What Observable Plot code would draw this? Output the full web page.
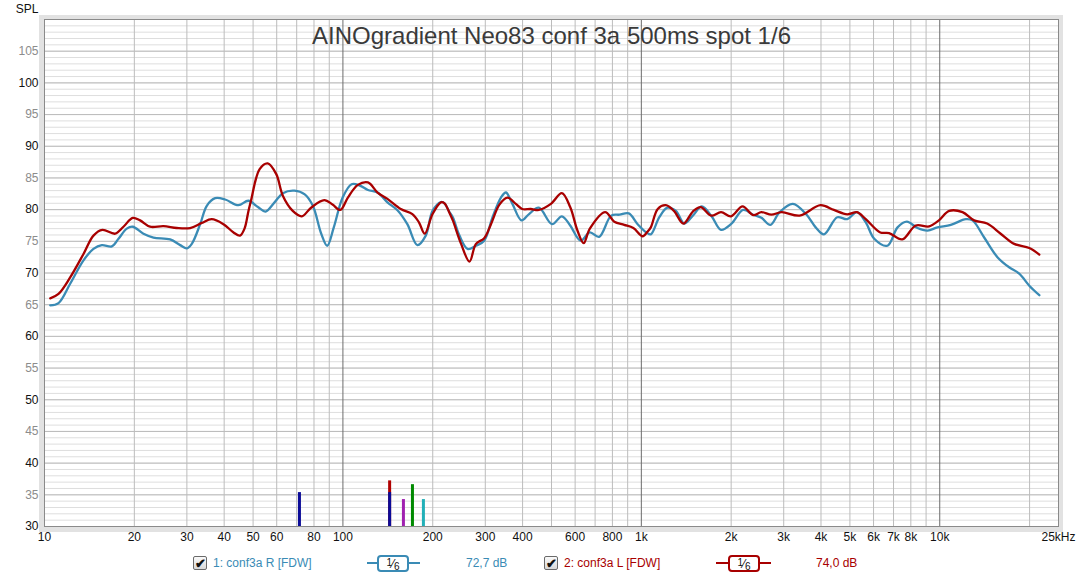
<!DOCTYPE html>
<html>
<head>
<meta charset="utf-8">
<script src="https://cdn.jsdelivr.net/npm/d3@7"></script>
<script src="https://cdn.jsdelivr.net/npm/@observablehq/plot@0.6"></script>
<style>
  html, body { margin: 0; padding: 0; background: #fff; }
  body { font-family: "Liberation Sans", Arial, sans-serif; width: 1080px; height: 578px; overflow: hidden; }
  #legend { position: relative; width: 1080px; height: 30px; font-size: 12px; }
  #legend .it { position: absolute; top: 8px; line-height: 14px; white-space: nowrap; }
  .cb { width: 12px; height: 12px; border: 1px solid #6a6a6a; border-radius: 2px;
        background: linear-gradient(#fafafa, #d8d8d8); font-size: 13px; line-height: 12px;
        text-align: center; color: #111; font-weight: bold; }
  .ln { height: 2px; }
  .badge { height: 13px; border-radius: 4px; background: #fff; text-align: center;
           color: #111; font-size: 11px; line-height: 13px; }
</style>
</head>
<body>
<div id="chart"></div>
<div id="legend"></div>
<script>
// ---- data ----
const chartTitle = "AINOgradient Neo83 conf 3a 500ms spot 1/6";
const yAxisTitle = "SPL";

const blueName = "1: conf3a R [FDW]";
const blueLevel = "72,7 dB";
const redName = "2: conf3a L [FDW]";
const redLevel = "74,0 dB";
const smoothing = "1/6";

const blueFreq = [10.45, 11.14, 12.19, 13.51, 14.59, 15.56, 16.81, 17.70, 18.87, 19.76, 21.46, 23.18, 26.37, 28.49, 30.0, 31.16, 33.24, 34.98, 37.31, 40.3, 44.66, 48.2, 51.9, 55.0, 59.0, 62.9, 68.8, 74.5, 79.3, 84.6, 88.6, 93.2, 99.8, 106.9, 113.9, 121.3, 130.6, 141.0, 152.3, 164.4, 177.6, 189.5, 199.7, 213, 219, 227, 233.5, 245.8, 261.7, 279.1, 297.5, 317.3, 338.5, 351.8, 369.8, 396.6, 420.5, 453.6, 502, 541.6, 577.5, 625.8, 672.1, 721.9, 792.6, 845.4, 907.8, 971.9, 1040, 1076, 1149, 1223, 1306, 1394, 1488, 1595, 1715, 1850, 1997, 2195, 2369, 2526, 2706, 2906, 3218, 3563, 3839, 4094, 4532, 4898, 5279, 5651, 6033, 6678, 7220, 7758, 8420, 9097, 9826, 10891, 12232, 12876, 14090, 15606, 17083, 18463, 19955, 21566];
const blueSPL = [64.9, 65.25, 68.3, 72.0, 73.8, 74.4, 74.2, 75.4, 77.0, 77.3, 76.2, 75.6, 75.3, 74.4, 73.9, 74.6, 77.7, 80.6, 81.8, 81.6, 80.7, 81.4, 80.4, 79.7, 81.15, 82.6, 83.0, 82.4, 80.6, 76.2, 74.3, 77.2, 81.9, 84.0, 83.8, 83.1, 82.7, 81.15, 79.9, 77.7, 74.4, 75.9, 79.8, 81.2, 81.0, 79.7, 78.8, 75.9, 73.8, 74.3, 75.1, 78.8, 81.9, 82.7, 80.9, 78.3, 79.3, 80.3, 77.7, 78.95, 77.5, 75.1, 76.4, 75.7, 79.05, 79.2, 79.4, 77.7, 76.4, 76.1, 78.8, 80.3, 79.8, 77.8, 79.05, 80.5, 79.05, 76.8, 77.7, 79.95, 79.2, 78.7, 77.6, 79.6, 80.9, 79.3, 77.2, 76.1, 78.8, 78.5, 79.6, 78.0, 75.4, 74.3, 77.2, 78.1, 77.1, 76.7, 77.2, 77.6, 78.5, 78.3, 75.6, 72.5, 70.9, 69.9, 68.0, 66.5];

const redFreq = [10.45, 11.14, 12.19, 13.51, 14.59, 15.63, 17.25, 18.39, 19.76, 20.91, 22.58, 25.04, 27.76, 30.76, 33.66, 36.33, 39.8, 43.0, 45.2, 46.8, 48.25, 49.2, 52.6, 56.0, 59.8, 62.9, 67.9, 72.8, 78.2, 86.6, 92.3, 98.0, 103.9, 112.2, 121.3, 130.6, 141.0, 156.3, 170.9, 179.8, 188.0, 199.7, 213, 219, 227, 233.5, 248.9, 265.6, 279.1, 297.5, 313.4, 334.5, 355.9, 379.6, 398.8, 426, 453.6, 497.6, 541.6, 577.5, 610.8, 640.8, 672.1, 756.2, 811.5, 876.3, 940.2, 1010, 1048, 1076, 1135, 1208, 1286, 1383, 1488, 1580, 1715, 1850, 1997, 2184, 2369, 2526, 2728, 2954, 3393, 3985, 4418, 4898, 5279, 5651, 6322, 6763, 7488, 8311, 9214, 9935, 10759, 11921, 13040, 14414, 16001, 17759, 19955, 21566];
const redSPL = [66.0, 66.7, 69.3, 73.0, 75.9, 76.8, 76.2, 77.3, 78.7, 78.3, 77.3, 77.4, 77.1, 77.1, 77.9, 78.5, 77.7, 76.4, 75.9, 77.0, 79.8, 81.4, 86.4, 87.3, 85.6, 82.2, 79.8, 78.95, 80.3, 81.5, 80.8, 79.95, 81.9, 83.9, 84.3, 82.7, 81.7, 80.1, 79.3, 78.0, 76.2, 79.3, 81.15, 81.0, 79.6, 78.3, 74.6, 71.8, 74.6, 75.5, 77.7, 80.8, 81.9, 80.9, 80.1, 80.1, 79.95, 80.9, 82.6, 80.4, 76.7, 74.7, 77.0, 79.6, 78.1, 77.6, 77.1, 75.8, 76.5, 77.2, 80.1, 80.7, 79.8, 77.8, 79.7, 80.4, 79.05, 79.6, 78.95, 80.5, 79.15, 79.6, 79.2, 79.6, 79.05, 80.7, 79.95, 79.25, 79.6, 78.5, 76.4, 76.3, 75.3, 77.5, 77.35, 78.3, 79.8, 79.6, 78.3, 77.8, 76.2, 74.6, 73.95, 72.9];

// peak markers at the bottom of the graph
const markerName = ["blue", "red", "blue", "magenta", "green", "cyan"];
const markerFreq = [71.5, 143.4, 143.4, 159.5, 171, 186.1];
const markerTop  = [35.35, 37.2, 35.35, 34.25, 36.6, 34.25];

// axis ticks
const xTickValues = [10, 20, 30, 40, 50, 60, 80, 100, 200, 300, 400, 600, 800, 1000, 2000, 3000, 4000, 5000, 6000, 7000, 8000, 10000, 25000];
const xTickLabels = ["10", "20", "30", "40", "50", "60", "80", "100", "200", "300", "400", "600", "800", "1k", "2k", "3k", "4k", "5k", "6k", "7k", "8k", "10k", "25kHz"];
const xGrid = [20, 30, 40, 50, 60, 70, 80, 90, 200, 300, 400, 500, 600, 700, 800, 900, 2000, 3000, 4000, 5000, 6000, 7000, 8000, 9000, 20000];
const xDecades = [100, 1000, 10000];
const yTens = [30, 40, 50, 60, 70, 80, 90, 100];
const yFives = [35, 45, 55, 65, 75, 85, 95, 105];
const yMinor = d3.range(31, 110);
const yDomain = [30, 110];
const xDomain = [10, 25000];

// ---- styles ----
const BLUE = "#3a8bb5";
const RED = "#a80000";
const markerColors = {blue: "#0b0b98", red: "#b00000", magenta: "#a020b0", green: "#008a00", cyan: "#22b0b8"};

const blue = blueFreq.map((f, i) => ({f, v: blueSPL[i]}));
const red = redFreq.map((f, i) => ({f, v: redSPL[i]}));
const markers = markerFreq.map((f, i) => ({f, top: markerTop[i], c: markerColors[markerName[i]]}));
const xTicks = xTickValues.map((v, i) => ({v, label: xTickLabels[i]}));

const chart = Plot.plot({
  width: 1080,
  height: 548,
  marginLeft: 44,
  marginRight: 22,
  marginTop: 19,
  marginBottom: 22,
  style: {fontFamily: "'Liberation Sans', Arial, sans-serif", fontSize: "12px", background: "#fff", overflow: "visible"},
  x: {type: "log", domain: xDomain, axis: null},
  y: {domain: yDomain, axis: null},
  color: {type: "identity"},
  marks: [
    Plot.frame({stroke: "#e2e2e2", strokeWidth: 5, insetLeft: -3, insetBottom: -3, insetTop: -2, insetRight: -2}),
    Plot.ruleY(yMinor, {stroke: "#dedede", strokeWidth: 1}),
    Plot.ruleY(yTens.concat(yFives), {stroke: "#bcbcbc", strokeWidth: 1}),
    Plot.ruleX(xGrid, {stroke: "#bcbcbc", strokeWidth: 1}),
    Plot.ruleX(xDecades, {stroke: "#6c6c6c", strokeWidth: 1}),
    Plot.ruleX(markers, {x: "f", y1: yDomain[0], y2: "top", stroke: "c", strokeWidth: 3}),
    Plot.line(blue, {x: "f", y: "v", stroke: BLUE, strokeWidth: 2.3, curve: "catmull-rom"}),
    Plot.line(red, {x: "f", y: "v", stroke: RED, strokeWidth: 2.3, curve: "catmull-rom"}),
    Plot.frame({stroke: "#8a8a8a", strokeWidth: 1}),
    Plot.text(yTens, {y: d => d, text: d => String(d), frameAnchor: "left", dx: -6, textAnchor: "end", fill: "#111", fontSize: 12}),
    Plot.text(yFives, {y: d => d, text: d => String(d), frameAnchor: "left", dx: -6, textAnchor: "end", fill: "#8c8c8c", fontSize: 12}),
    Plot.text(xTicks, {x: "v", text: "label", frameAnchor: "bottom", dy: 11, lineAnchor: "middle", textAnchor: "middle", fill: "#111", fontSize: 12}),
    Plot.text([chartTitle], {text: d => d, frameAnchor: "top", dy: 17, lineAnchor: "middle", fontSize: 24, fill: "#3a3a3a"}),
    Plot.text([yAxisTitle], {text: d => d, frameAnchor: "top-left", dx: -6, dy: -10.5, textAnchor: "end", lineAnchor: "middle", fontSize: 12, fill: "#111"})
  ]
});
document.getElementById("chart").appendChild(chart);

// ---- legend ----
const legend = document.getElementById("legend");
function add(html, left, cls, style) {
  const el = document.createElement("div");
  el.className = "it " + (cls || "");
  el.style.left = left + "px";
  if (style) Object.assign(el.style, style);
  el.innerHTML = html;
  legend.appendChild(el);
  return el;
}
function fraction(s) {
  const [a, b] = s.split("/");
  return `<span style="position:relative;top:-2px;font-size:10px">${a}</span><span style="font-size:12px">\u2044</span><span style="position:relative;top:2px;font-size:10px">${b}</span>`;
}
function series(x0, name, level, color, lineL, lineR, boxL, boxR, levelL) {
  add("\u2714", x0, "cb", {top: "8px"});
  add(name, x0 + 20, "", {color});
  add("", lineL, "ln", {top: "14px", width: (lineR - lineL) + "px", background: color});
  add(fraction(smoothing), boxL, "badge", {top: "7px", width: (boxR - boxL - 4) + "px", border: "2px solid " + color});
  add(level, levelL, "", {color});
}
series(193, blueName, blueLevel, BLUE, 367, 420, 377, 409, 466);
series(544, redName, redLevel, RED, 716, 771, 728, 760, 816);
</script>
</body>
</html>
